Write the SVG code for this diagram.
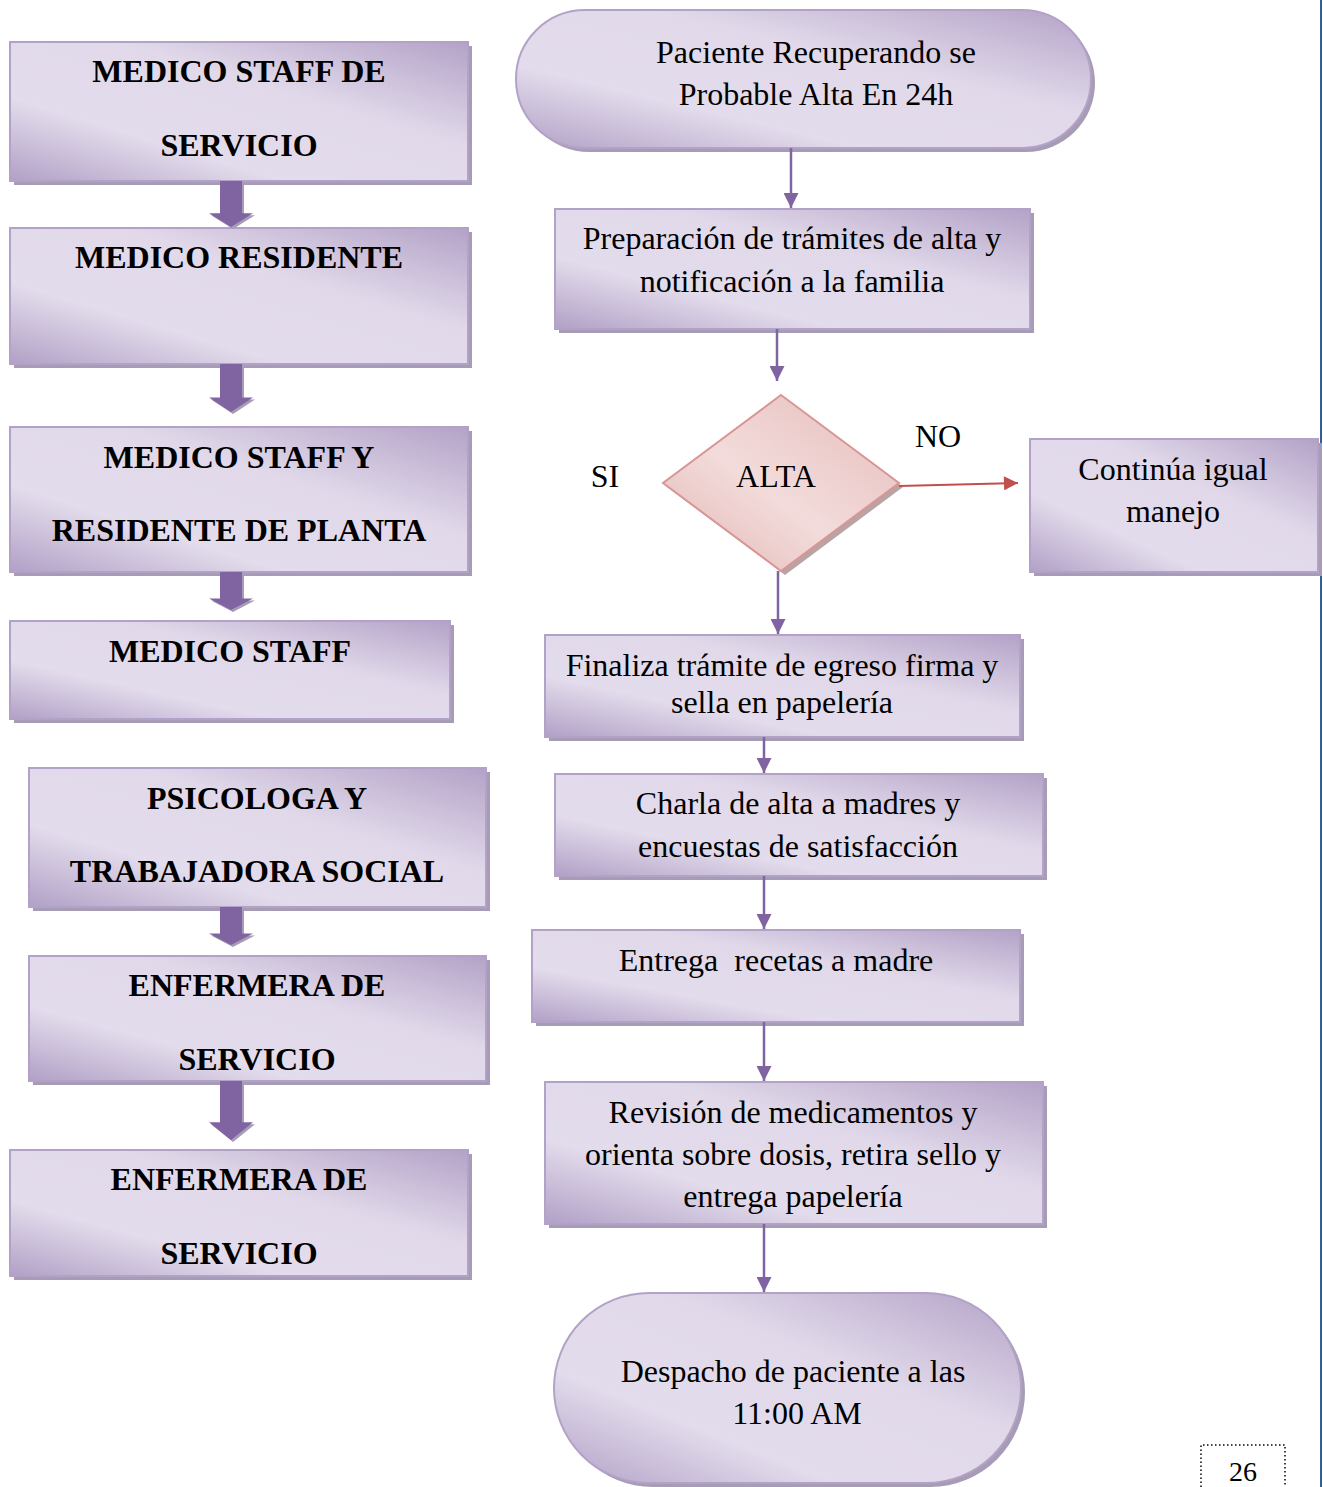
<svg xmlns="http://www.w3.org/2000/svg" width="1323" height="1487" viewBox="0 0 1323 1487">
  <style>
    .box { fill: url(#lilac); stroke: #b3a2c7; stroke-width: 2; }
    .shadow { fill: #a69cb5; }
    .diaShadow { fill: #b9a3a3; }
    .dia { fill: url(#rose); stroke: #d99694; stroke-width: 2; }
    .bold { font-family: "Liberation Serif", "Times New Roman", serif; font-weight: bold; font-size: 32px; fill: #000; text-anchor: middle; }
    .txt { font-family: "Liberation Serif", "Times New Roman", serif; font-size: 32px; fill: #000; text-anchor: middle; white-space: pre; }
    .flow { stroke: #8064a2; stroke-width: 2.5; fill: none; marker-end: url(#head); }
    .no { stroke: #c0504d; stroke-width: 2; fill: none; marker-end: url(#headRed); }
    .block { fill: #8064a2; }
    .blockShadow { fill: #a69cb5; }
  </style>
  <defs>
    <linearGradient id="lilac" x1="0" y1="1" x2="1" y2="0">
      <stop offset="0" stop-color="#b1a0c6"/>
      <stop offset="0.3" stop-color="#e3dcec"/>
      <stop offset="0.62" stop-color="#e1d9ea"/>
      <stop offset="1" stop-color="#b3a2c7"/>
    </linearGradient>
    <linearGradient id="rose" x1="0" y1="1" x2="1" y2="0">
      <stop offset="0" stop-color="#e4b6b5"/>
      <stop offset="0.45" stop-color="#f2dcdb"/>
      <stop offset="1" stop-color="#e6bcbb"/>
    </linearGradient>
    <marker id="head" viewBox="0 0 10 10" refX="10" refY="5" markerWidth="6" markerHeight="6" orient="auto" markerUnits="strokeWidth">
      <path d="M0,0 L10,5 L0,10 Z" fill="#8064a2"/>
    </marker>
    <marker id="headRed" viewBox="0 0 10 10" refX="10" refY="5" markerWidth="8" markerHeight="7" orient="auto" markerUnits="strokeWidth">
      <path d="M0,0 L10,5 L0,10 Z" fill="#c0504d"/>
    </marker>
    <symbol id="blockArrow" viewBox="0 0 44 100" preserveAspectRatio="none" overflow="visible">
      <path d="M11,0 H33 V70 H44 L22,100 L0,70 H11 Z"/>
    </symbol>
  </defs>

  <rect width="1323" height="1487" fill="#fff"/>

  <!-- page edge rule -->
  <line x1="1321" y1="0" x2="1321" y2="1487" stroke="#365f91" stroke-width="2"/>

  <!-- left column: responsible staff -->
  <g id="staff-servicio">
    <rect class="shadow" x="14" y="46" width="458" height="139"/>
    <rect class="box" x="10" y="42" width="458" height="139"/>
    <text class="bold" x="239" y="82">MEDICO STAFF DE</text>
    <text class="bold" x="239" y="156">SERVICIO</text>
  </g>
  <g id="residente">
    <rect class="shadow" x="14" y="232" width="458" height="136"/>
    <rect class="box" x="10" y="228" width="458" height="136"/>
    <text class="bold" x="239" y="268">MEDICO RESIDENTE</text>
  </g>
  <g id="staff-residente-planta">
    <rect class="shadow" x="14" y="431" width="458" height="145"/>
    <rect class="box" x="10" y="427" width="458" height="145"/>
    <text class="bold" x="239" y="468">MEDICO STAFF Y</text>
    <text class="bold" x="239" y="541">RESIDENTE DE PLANTA</text>
  </g>
  <g id="staff">
    <rect class="shadow" x="14" y="625" width="440" height="98"/>
    <rect class="box" x="10" y="621" width="440" height="98"/>
    <text class="bold" x="230" y="662">MEDICO STAFF</text>
  </g>
  <g id="psicologa-trabajadora">
    <rect class="shadow" x="33" y="772" width="457" height="139"/>
    <rect class="box" x="29" y="768" width="457" height="139"/>
    <text class="bold" x="257" y="809">PSICOLOGA Y</text>
    <text class="bold" x="257" y="882">TRABAJADORA SOCIAL</text>
  </g>
  <g id="enfermera-1">
    <rect class="shadow" x="33" y="960" width="457" height="125"/>
    <rect class="box" x="29" y="956" width="457" height="125"/>
    <text class="bold" x="257" y="996">ENFERMERA DE</text>
    <text class="bold" x="257" y="1070">SERVICIO</text>
  </g>
  <g id="enfermera-2">
    <rect class="shadow" x="14" y="1154" width="458" height="126"/>
    <rect class="box" x="10" y="1150" width="458" height="126"/>
    <text class="bold" x="239" y="1190">ENFERMERA DE</text>
    <text class="bold" x="239" y="1264">SERVICIO</text>
  </g>

  <!-- right column: discharge process -->
  <g id="inicio">
    <rect class="shadow" x="520" y="14" width="575" height="138" rx="69"/>
    <rect class="box" x="516" y="10" width="575" height="138" rx="69"/>
    <text class="txt" x="816" y="63">Paciente Recuperando se</text>
    <text class="txt" x="816" y="105">Probable Alta En 24h</text>
  </g>
  <g id="preparacion">
    <rect class="shadow" x="559" y="213" width="475" height="120"/>
    <rect class="box" x="555" y="209" width="475" height="120"/>
    <text class="txt" x="792" y="249">Preparación de trámites de alta y</text>
    <text class="txt" x="792" y="292">notificación a la familia</text>
  </g>
  <g id="alta">
    <path class="diaShadow" d="M785,399 L903,487 L785,575 L667,487 Z"/>
    <path class="dia" d="M781,395 L899,483 L781,571 L663,483 Z"/>
    <text class="txt" x="776" y="487">ALTA</text>
  </g>
  <text class="txt" x="605" y="487">SI</text>
  <text class="txt" x="938" y="447">NO</text>
  <g id="continua">
    <rect class="shadow" x="1034" y="443" width="288" height="133"/>
    <rect class="box" x="1030" y="439" width="288" height="133"/>
    <text class="txt" x="1173" y="480">Continúa igual</text>
    <text class="txt" x="1173" y="522">manejo</text>
  </g>
  <g id="finaliza">
    <rect class="shadow" x="549" y="639" width="475" height="102"/>
    <rect class="box" x="545" y="635" width="475" height="102"/>
    <text class="txt" x="782" y="676">Finaliza trámite de egreso firma y</text>
    <text class="txt" x="782" y="713">sella en papelería</text>
  </g>
  <g id="charla">
    <rect class="shadow" x="559" y="778" width="488" height="102"/>
    <rect class="box" x="555" y="774" width="488" height="102"/>
    <text class="txt" x="798" y="814">Charla de alta a madres y</text>
    <text class="txt" x="798" y="857">encuestas de satisfacción</text>
  </g>
  <g id="recetas">
    <rect class="shadow" x="536" y="934" width="488" height="92"/>
    <rect class="box" x="532" y="930" width="488" height="92"/>
    <text class="txt" x="776" y="971">Entrega  recetas a madre</text>
  </g>
  <g id="revision">
    <rect class="shadow" x="549" y="1086" width="498" height="142"/>
    <rect class="box" x="545" y="1082" width="498" height="142"/>
    <text class="txt" x="793" y="1123">Revisión de medicamentos y</text>
    <text class="txt" x="793" y="1165">orienta sobre dosis, retira sello y</text>
    <text class="txt" x="793" y="1207">entrega papelería</text>
  </g>
  <g id="despacho">
    <rect class="shadow" x="558" y="1297" width="467" height="190" rx="95"/>
    <rect class="box" x="554" y="1293" width="467" height="190" rx="95"/>
    <text class="txt" x="793" y="1382">Despacho de paciente a las</text>
    <text class="txt" x="797" y="1424">11:00 AM</text>
  </g>

  <!-- page number -->
  <g id="pagina">
    <path d="M1201,1487 V1445 H1285 V1487" fill="none" stroke="#000" stroke-width="1.5" stroke-dasharray="1.5,2.5"/>
    <text class="txt" x="1243" y="1481" style="font-size:28px">26</text>
  </g>

  <!-- connectors -->
  <g id="connectors">
    <!-- block arrows between staff boxes -->
    <g class="blockShadow">
      <use href="#blockArrow" x="211" y="183" width="44" height="46"/>
      <use href="#blockArrow" x="211" y="366" width="44" height="48"/>
      <use href="#blockArrow" x="211" y="574" width="44" height="38"/>
      <use href="#blockArrow" x="211" y="909" width="44" height="38"/>
      <use href="#blockArrow" x="211" y="1083" width="44" height="59"/>
    </g>
    <g class="block">
      <use href="#blockArrow" x="209" y="181" width="44" height="46"/>
      <use href="#blockArrow" x="209" y="364" width="44" height="48"/>
      <use href="#blockArrow" x="209" y="572" width="44" height="38"/>
      <use href="#blockArrow" x="209" y="907" width="44" height="38"/>
      <use href="#blockArrow" x="209" y="1081" width="44" height="59"/>
    </g>
    <!-- process flow -->
    <line class="flow" x1="791" y1="148" x2="791" y2="208"/>
    <line class="flow" x1="777" y1="329" x2="777" y2="381"/>
    <line class="flow" x1="778" y1="571" x2="778" y2="634"/>
    <line class="flow" x1="764" y1="737" x2="764" y2="773"/>
    <line class="flow" x1="764" y1="876" x2="764" y2="929"/>
    <line class="flow" x1="764" y1="1022" x2="764" y2="1081"/>
    <line class="flow" x1="764" y1="1224" x2="764" y2="1292"/>
    <line class="no" x1="899" y1="486" x2="1018" y2="483"/>
  </g>
</svg>
